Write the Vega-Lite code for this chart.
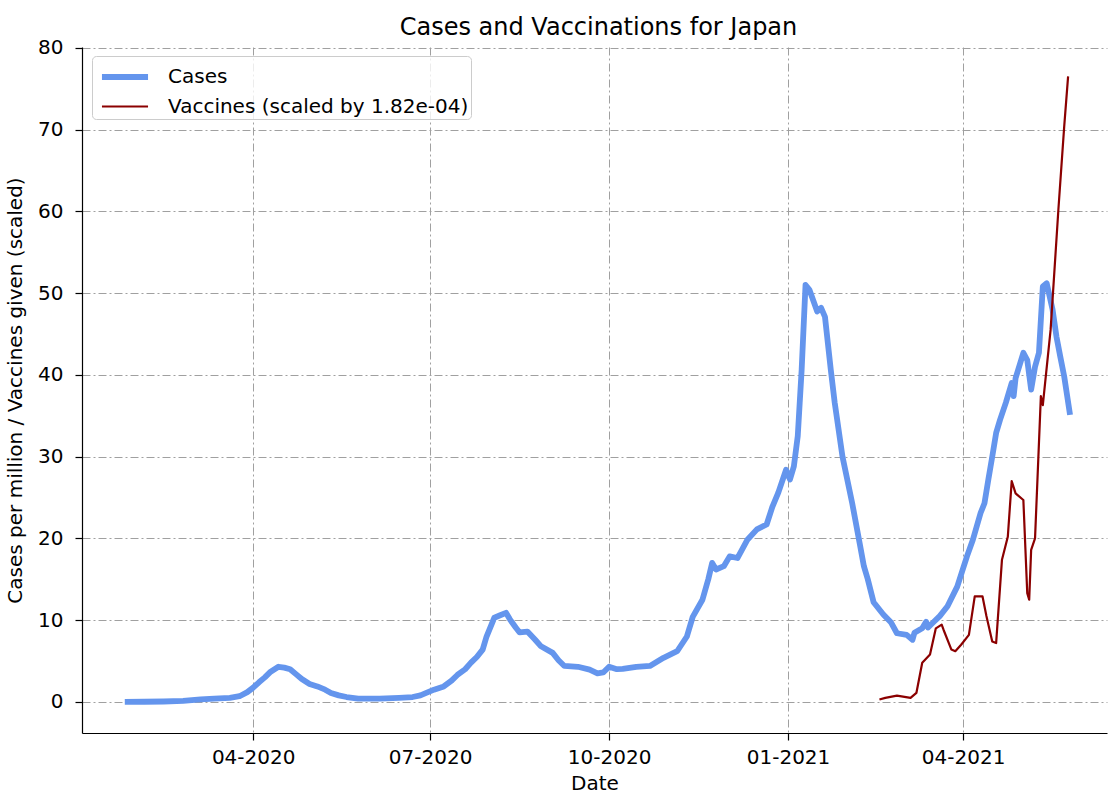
{
  "$schema": "https://vega.github.io/schema/vega-lite/v6.json",
  "width": 1025,
  "height": 686,
  "autosize": {"type": "none"},
  "padding": {"left": 82, "top": 47, "right": 1, "bottom": 61},
  "title": {"text": "Cases and Vaccinations for Japan", "fontSize": 24, "fontWeight": "normal", "color": "#000000", "offset": -2, "dx": 4},
  "config": {
    "font": "DejaVu Sans",
    "view": {"stroke": null},
    "axis": {
      "domainColor": "#000000", "domainWidth": 1.2,
      "tickColor": "#000000", "tickSize": 7, "tickWidth": 1.2,
      "labelFontSize": 20, "labelColor": "#000000",
      "titleFontSize": 20, "titleColor": "#000000", "titleFontWeight": "normal",
      "gridColor": "#a0a0a0", "gridDash": [8, 3, 2, 3], "gridWidth": 1
    },
    "legend": {
      "title": null, "orient": "none", "legendX": 10, "legendY": 9,
      "symbolType": "M-1.44,0H1.44", "symbolSize": 1024, "symbolOffset": 12,
      "labelFontSize": 20, "labelColor": "#000000", "labelLimit": 600,
      "labelOffset": 24, "padding": 2, "rowPadding": -2,
      "fillColor": "rgba(255,255,255,0.8)", "strokeColor": "#cccccc", "cornerRadius": 4
    }
  },
  "datasets": {
    "cases": [
      {"date": "2020-01-26", "series": "Cases", "value": 0.0},
      {"date": "2020-02-05", "series": "Cases", "value": 0.02},
      {"date": "2020-02-15", "series": "Cases", "value": 0.05},
      {"date": "2020-02-25", "series": "Cases", "value": 0.12},
      {"date": "2020-03-05", "series": "Cases", "value": 0.3},
      {"date": "2020-03-12", "series": "Cases", "value": 0.4},
      {"date": "2020-03-20", "series": "Cases", "value": 0.5},
      {"date": "2020-03-25", "series": "Cases", "value": 0.7},
      {"date": "2020-03-29", "series": "Cases", "value": 1.2},
      {"date": "2020-04-01", "series": "Cases", "value": 1.75},
      {"date": "2020-04-04", "series": "Cases", "value": 2.4},
      {"date": "2020-04-07", "series": "Cases", "value": 3.0},
      {"date": "2020-04-10", "series": "Cases", "value": 3.7},
      {"date": "2020-04-14", "series": "Cases", "value": 4.3},
      {"date": "2020-04-17", "series": "Cases", "value": 4.2},
      {"date": "2020-04-20", "series": "Cases", "value": 4.0},
      {"date": "2020-04-23", "series": "Cases", "value": 3.4},
      {"date": "2020-04-26", "series": "Cases", "value": 2.8},
      {"date": "2020-04-30", "series": "Cases", "value": 2.2},
      {"date": "2020-05-04", "series": "Cases", "value": 1.9},
      {"date": "2020-05-08", "series": "Cases", "value": 1.5},
      {"date": "2020-05-11", "series": "Cases", "value": 1.1},
      {"date": "2020-05-15", "series": "Cases", "value": 0.8},
      {"date": "2020-05-19", "series": "Cases", "value": 0.6},
      {"date": "2020-05-25", "series": "Cases", "value": 0.4},
      {"date": "2020-06-05", "series": "Cases", "value": 0.4},
      {"date": "2020-06-15", "series": "Cases", "value": 0.5},
      {"date": "2020-06-22", "series": "Cases", "value": 0.6},
      {"date": "2020-06-26", "series": "Cases", "value": 0.8},
      {"date": "2020-06-29", "series": "Cases", "value": 1.1},
      {"date": "2020-07-03", "series": "Cases", "value": 1.5},
      {"date": "2020-07-08", "series": "Cases", "value": 1.9},
      {"date": "2020-07-12", "series": "Cases", "value": 2.6},
      {"date": "2020-07-15", "series": "Cases", "value": 3.3},
      {"date": "2020-07-19", "series": "Cases", "value": 4.0},
      {"date": "2020-07-22", "series": "Cases", "value": 4.8},
      {"date": "2020-07-25", "series": "Cases", "value": 5.5},
      {"date": "2020-07-28", "series": "Cases", "value": 6.4},
      {"date": "2020-07-30", "series": "Cases", "value": 8.0},
      {"date": "2020-08-03", "series": "Cases", "value": 10.3},
      {"date": "2020-08-06", "series": "Cases", "value": 10.6},
      {"date": "2020-08-09", "series": "Cases", "value": 10.9},
      {"date": "2020-08-11", "series": "Cases", "value": 10.1},
      {"date": "2020-08-14", "series": "Cases", "value": 9.1},
      {"date": "2020-08-16", "series": "Cases", "value": 8.5},
      {"date": "2020-08-20", "series": "Cases", "value": 8.6},
      {"date": "2020-08-24", "series": "Cases", "value": 7.6},
      {"date": "2020-08-27", "series": "Cases", "value": 6.8},
      {"date": "2020-09-02", "series": "Cases", "value": 6.0},
      {"date": "2020-09-05", "series": "Cases", "value": 5.1},
      {"date": "2020-09-08", "series": "Cases", "value": 4.4},
      {"date": "2020-09-15", "series": "Cases", "value": 4.3},
      {"date": "2020-09-21", "series": "Cases", "value": 3.95},
      {"date": "2020-09-25", "series": "Cases", "value": 3.5},
      {"date": "2020-09-28", "series": "Cases", "value": 3.6},
      {"date": "2020-10-01", "series": "Cases", "value": 4.3},
      {"date": "2020-10-05", "series": "Cases", "value": 4.0},
      {"date": "2020-10-08", "series": "Cases", "value": 4.05},
      {"date": "2020-10-15", "series": "Cases", "value": 4.3},
      {"date": "2020-10-22", "series": "Cases", "value": 4.4},
      {"date": "2020-10-29", "series": "Cases", "value": 5.4},
      {"date": "2020-11-05", "series": "Cases", "value": 6.2},
      {"date": "2020-11-10", "series": "Cases", "value": 8.0},
      {"date": "2020-11-13", "series": "Cases", "value": 10.4},
      {"date": "2020-11-18", "series": "Cases", "value": 12.5},
      {"date": "2020-11-21", "series": "Cases", "value": 15.0},
      {"date": "2020-11-23", "series": "Cases", "value": 17.0},
      {"date": "2020-11-25", "series": "Cases", "value": 16.2},
      {"date": "2020-11-29", "series": "Cases", "value": 16.6},
      {"date": "2020-12-02", "series": "Cases", "value": 17.8},
      {"date": "2020-12-06", "series": "Cases", "value": 17.6},
      {"date": "2020-12-11", "series": "Cases", "value": 19.8},
      {"date": "2020-12-16", "series": "Cases", "value": 21.1},
      {"date": "2020-12-21", "series": "Cases", "value": 21.7},
      {"date": "2020-12-24", "series": "Cases", "value": 23.9},
      {"date": "2020-12-27", "series": "Cases", "value": 25.6},
      {"date": "2020-12-31", "series": "Cases", "value": 28.4},
      {"date": "2021-01-02", "series": "Cases", "value": 27.2},
      {"date": "2021-01-04", "series": "Cases", "value": 28.8},
      {"date": "2021-01-06", "series": "Cases", "value": 32.5},
      {"date": "2021-01-08", "series": "Cases", "value": 40.6},
      {"date": "2021-01-10", "series": "Cases", "value": 51.0},
      {"date": "2021-01-12", "series": "Cases", "value": 50.4},
      {"date": "2021-01-16", "series": "Cases", "value": 47.75},
      {"date": "2021-01-18", "series": "Cases", "value": 48.2},
      {"date": "2021-01-20", "series": "Cases", "value": 47.1},
      {"date": "2021-01-23", "series": "Cases", "value": 40.6},
      {"date": "2021-01-25", "series": "Cases", "value": 36.6},
      {"date": "2021-01-29", "series": "Cases", "value": 30.0},
      {"date": "2021-02-03", "series": "Cases", "value": 24.3},
      {"date": "2021-02-07", "series": "Cases", "value": 19.2},
      {"date": "2021-02-09", "series": "Cases", "value": 16.6},
      {"date": "2021-02-11", "series": "Cases", "value": 15.0},
      {"date": "2021-02-14", "series": "Cases", "value": 12.2},
      {"date": "2021-02-19", "series": "Cases", "value": 10.7},
      {"date": "2021-02-23", "series": "Cases", "value": 9.7},
      {"date": "2021-02-26", "series": "Cases", "value": 8.4},
      {"date": "2021-03-03", "series": "Cases", "value": 8.2},
      {"date": "2021-03-06", "series": "Cases", "value": 7.6},
      {"date": "2021-03-07", "series": "Cases", "value": 8.45},
      {"date": "2021-03-11", "series": "Cases", "value": 9.0},
      {"date": "2021-03-13", "series": "Cases", "value": 9.8},
      {"date": "2021-03-14", "series": "Cases", "value": 9.1},
      {"date": "2021-03-17", "series": "Cases", "value": 9.8},
      {"date": "2021-03-20", "series": "Cases", "value": 10.5},
      {"date": "2021-03-24", "series": "Cases", "value": 11.7},
      {"date": "2021-03-29", "series": "Cases", "value": 14.1},
      {"date": "2021-04-03", "series": "Cases", "value": 17.8},
      {"date": "2021-04-06", "series": "Cases", "value": 19.8},
      {"date": "2021-04-10", "series": "Cases", "value": 23.1},
      {"date": "2021-04-12", "series": "Cases", "value": 24.3},
      {"date": "2021-04-14", "series": "Cases", "value": 27.2},
      {"date": "2021-04-16", "series": "Cases", "value": 30.0},
      {"date": "2021-04-18", "series": "Cases", "value": 32.9},
      {"date": "2021-04-20", "series": "Cases", "value": 34.5},
      {"date": "2021-04-23", "series": "Cases", "value": 36.6},
      {"date": "2021-04-26", "series": "Cases", "value": 39.0},
      {"date": "2021-04-27", "series": "Cases", "value": 37.4},
      {"date": "2021-04-28", "series": "Cases", "value": 39.6},
      {"date": "2021-05-02", "series": "Cases", "value": 42.7},
      {"date": "2021-05-04", "series": "Cases", "value": 41.8},
      {"date": "2021-05-06", "series": "Cases", "value": 38.2},
      {"date": "2021-05-08", "series": "Cases", "value": 41.0},
      {"date": "2021-05-10", "series": "Cases", "value": 42.7},
      {"date": "2021-05-12", "series": "Cases", "value": 50.8},
      {"date": "2021-05-14", "series": "Cases", "value": 51.2},
      {"date": "2021-05-17", "series": "Cases", "value": 48.0},
      {"date": "2021-05-19", "series": "Cases", "value": 44.7},
      {"date": "2021-05-21", "series": "Cases", "value": 42.2},
      {"date": "2021-05-23", "series": "Cases", "value": 39.8},
      {"date": "2021-05-26", "series": "Cases", "value": 35.1}
    ],
    "vaccines": [
      {"date": "2021-02-17", "series": "Vaccines (scaled by 1.82e-04)", "value": 0.3},
      {"date": "2021-02-20", "series": "Vaccines (scaled by 1.82e-04)", "value": 0.5},
      {"date": "2021-02-26", "series": "Vaccines (scaled by 1.82e-04)", "value": 0.77},
      {"date": "2021-03-05", "series": "Vaccines (scaled by 1.82e-04)", "value": 0.5},
      {"date": "2021-03-08", "series": "Vaccines (scaled by 1.82e-04)", "value": 1.1},
      {"date": "2021-03-11", "series": "Vaccines (scaled by 1.82e-04)", "value": 4.8},
      {"date": "2021-03-15", "series": "Vaccines (scaled by 1.82e-04)", "value": 5.8},
      {"date": "2021-03-18", "series": "Vaccines (scaled by 1.82e-04)", "value": 9.0},
      {"date": "2021-03-21", "series": "Vaccines (scaled by 1.82e-04)", "value": 9.45},
      {"date": "2021-03-22", "series": "Vaccines (scaled by 1.82e-04)", "value": 8.8},
      {"date": "2021-03-26", "series": "Vaccines (scaled by 1.82e-04)", "value": 6.4},
      {"date": "2021-03-28", "series": "Vaccines (scaled by 1.82e-04)", "value": 6.2},
      {"date": "2021-03-31", "series": "Vaccines (scaled by 1.82e-04)", "value": 7.0},
      {"date": "2021-04-04", "series": "Vaccines (scaled by 1.82e-04)", "value": 8.2},
      {"date": "2021-04-07", "series": "Vaccines (scaled by 1.82e-04)", "value": 12.9},
      {"date": "2021-04-11", "series": "Vaccines (scaled by 1.82e-04)", "value": 12.9},
      {"date": "2021-04-13", "series": "Vaccines (scaled by 1.82e-04)", "value": 10.5},
      {"date": "2021-04-16", "series": "Vaccines (scaled by 1.82e-04)", "value": 7.4},
      {"date": "2021-04-18", "series": "Vaccines (scaled by 1.82e-04)", "value": 7.2},
      {"date": "2021-04-21", "series": "Vaccines (scaled by 1.82e-04)", "value": 17.4},
      {"date": "2021-04-24", "series": "Vaccines (scaled by 1.82e-04)", "value": 20.2},
      {"date": "2021-04-26", "series": "Vaccines (scaled by 1.82e-04)", "value": 27.0},
      {"date": "2021-04-28", "series": "Vaccines (scaled by 1.82e-04)", "value": 25.5},
      {"date": "2021-05-02", "series": "Vaccines (scaled by 1.82e-04)", "value": 24.7},
      {"date": "2021-05-04", "series": "Vaccines (scaled by 1.82e-04)", "value": 13.3},
      {"date": "2021-05-05", "series": "Vaccines (scaled by 1.82e-04)", "value": 12.5},
      {"date": "2021-05-06", "series": "Vaccines (scaled by 1.82e-04)", "value": 18.6},
      {"date": "2021-05-08", "series": "Vaccines (scaled by 1.82e-04)", "value": 20.0},
      {"date": "2021-05-11", "series": "Vaccines (scaled by 1.82e-04)", "value": 37.4},
      {"date": "2021-05-12", "series": "Vaccines (scaled by 1.82e-04)", "value": 36.3},
      {"date": "2021-05-16", "series": "Vaccines (scaled by 1.82e-04)", "value": 45.5},
      {"date": "2021-05-20", "series": "Vaccines (scaled by 1.82e-04)", "value": 60.2},
      {"date": "2021-05-23", "series": "Vaccines (scaled by 1.82e-04)", "value": 70.4},
      {"date": "2021-05-25", "series": "Vaccines (scaled by 1.82e-04)", "value": 76.5}
    ],
    "topline": [{"v": 80.1}]
  },
  "layer": [
    {
      "data": {"name": "topline"},
      "mark": {"type": "rule", "color": "#000000", "strokeWidth": 1.2},
      "encoding": {"y": {"field": "v", "type": "quantitative"}}
    },
    {
      "data": {"name": "cases"},
      "mark": {"type": "line", "strokeJoin": "round", "strokeCap": "butt"},
      "encoding": {
        "x": {"field": "date", "type": "temporal"},
        "y": {"field": "value", "type": "quantitative"},
        "color": {"field": "series", "type": "nominal"},
        "strokeWidth": {"field": "series", "type": "nominal"}
      }
    },
    {
      "data": {"name": "vaccines"},
      "mark": {"type": "line", "strokeJoin": "round", "strokeCap": "butt"},
      "encoding": {
        "x": {"field": "date", "type": "temporal"},
        "y": {"field": "value", "type": "quantitative"},
        "color": {"field": "series", "type": "nominal"},
        "strokeWidth": {"field": "series", "type": "nominal"}
      }
    }
  ],
  "encoding": {
    "x": {
      "field": "date", "type": "temporal", "title": "Date",
      "scale": {"type": "utc", "domain": [{"year": 2020, "month": 1, "date": 4, "utc": true}, {"year": 2021, "month": 6, "date": 14, "utc": true}]},
      "axis": {
        "values": [
          {"year": 2020, "month": 4, "date": 1, "utc": true},
          {"year": 2020, "month": 7, "date": 1, "utc": true},
          {"year": 2020, "month": 10, "date": 1, "utc": true},
          {"year": 2021, "month": 1, "date": 1, "utc": true},
          {"year": 2021, "month": 4, "date": 1, "utc": true}
        ],
        "format": "%m-%Y", "labelPadding": 7, "titlePadding": 6, "titleDx": 4
      }
    },
    "y": {
      "field": "value", "type": "quantitative",
      "title": "Cases per million / Vaccines given (scaled)",
      "scale": {"domain": [-3.8, 80.1], "nice": false, "zero": false},
      "axis": {"values": [0, 10, 20, 30, 40, 50, 60, 70, 80], "labelPadding": 12, "titlePadding": 12}
    },
    "color": {
      "field": "series", "type": "nominal",
      "scale": {"domain": ["Cases", "Vaccines (scaled by 1.82e-04)"], "range": ["#6495ED", "#8B0000"]},
      "legend": {}
    },
    "strokeWidth": {
      "field": "series", "type": "nominal",
      "scale": {"domain": ["Cases", "Vaccines (scaled by 1.82e-04)"], "range": [5.8, 2.2]},
      "legend": {}
    }
  }
}
